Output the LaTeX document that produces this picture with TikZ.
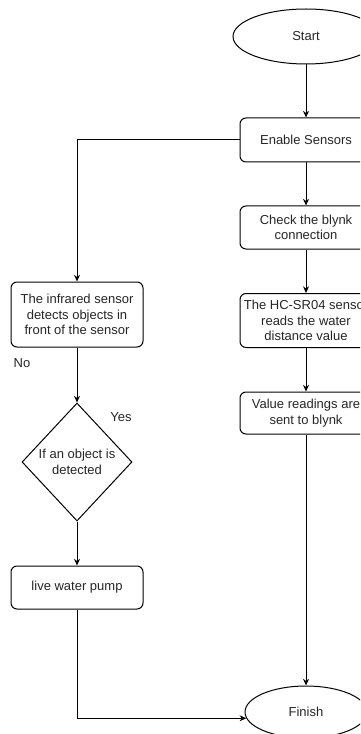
\documentclass[tikz,border=0pt]{standalone}
\usepackage{fontspec}
\setmainfont{Liberation Sans}
\usetikzlibrary{shapes.geometric,arrows.meta}
\begin{document}
\begin{tikzpicture}[x=0.75pt,y=-0.75pt,>={Stealth[length=5pt,width=4.5pt]},
    every node/.style={font=\fontsize{9.75}{11.7}\selectfont,text=black!85,align=center},
    box/.style={draw,rounded corners=4.5pt,minimum width=99pt,inner sep=1pt},
    oval/.style={draw,ellipse,inner sep=0pt},
    decide/.style={draw,diamond,inner sep=0pt,minimum width=82.5pt,minimum height=88.5pt},
    line width=0.75pt]
        \useasboundingbox (0,0) rectangle (360,734);
        \fill[white] (0,0) rectangle (360,734);
        \clip (0,0) rectangle (360,734);
        \node[oval,minimum width=109.5pt,minimum height=41.25pt] (start) at (306,36.5) {Start};
        \node[box,minimum height=33pt] (enable) at (306,140) {Enable Sensors};
        \node[box,minimum height=32.25pt] (check) at (306,227.5) {Check the blynk\\connection};
        \node[box,minimum height=40.5pt] (hc) at (306,320.5) {The HC-SR04 sensor\\reads the water\\distance value};
        \node[box,minimum height=31.5pt] (value) at (306,413) {Value readings are\\sent to blynk};
        \node[oval,minimum width=91.5pt,minimum height=39pt] (finish) at (306,712) {Finish};
        \node[box,minimum height=48.75pt] (infra) at (77,314.5) {The infrared sensor\\detects objects in\\front of the sensor};
        \node[decide] (dec) at (77,462) {If an object is\\detected};
        \node[box,minimum height=32.25pt] (pump) at (77,587.5) {live water pump};
        \node (no) at (22,363) {No};
        \node (yes) at (121,417) {Yes};
        \foreach \a/\b in {start/enable,enable/check,check/hc,hc/value,value/finish,infra/dec,dec/pump}
            \draw[->] (\a) -- (\b);
        \draw[->] (enable.west) -| (infra.north);
        \draw[->] (pump.south) |- (finish.186);
    \end{tikzpicture}
\end{document}
